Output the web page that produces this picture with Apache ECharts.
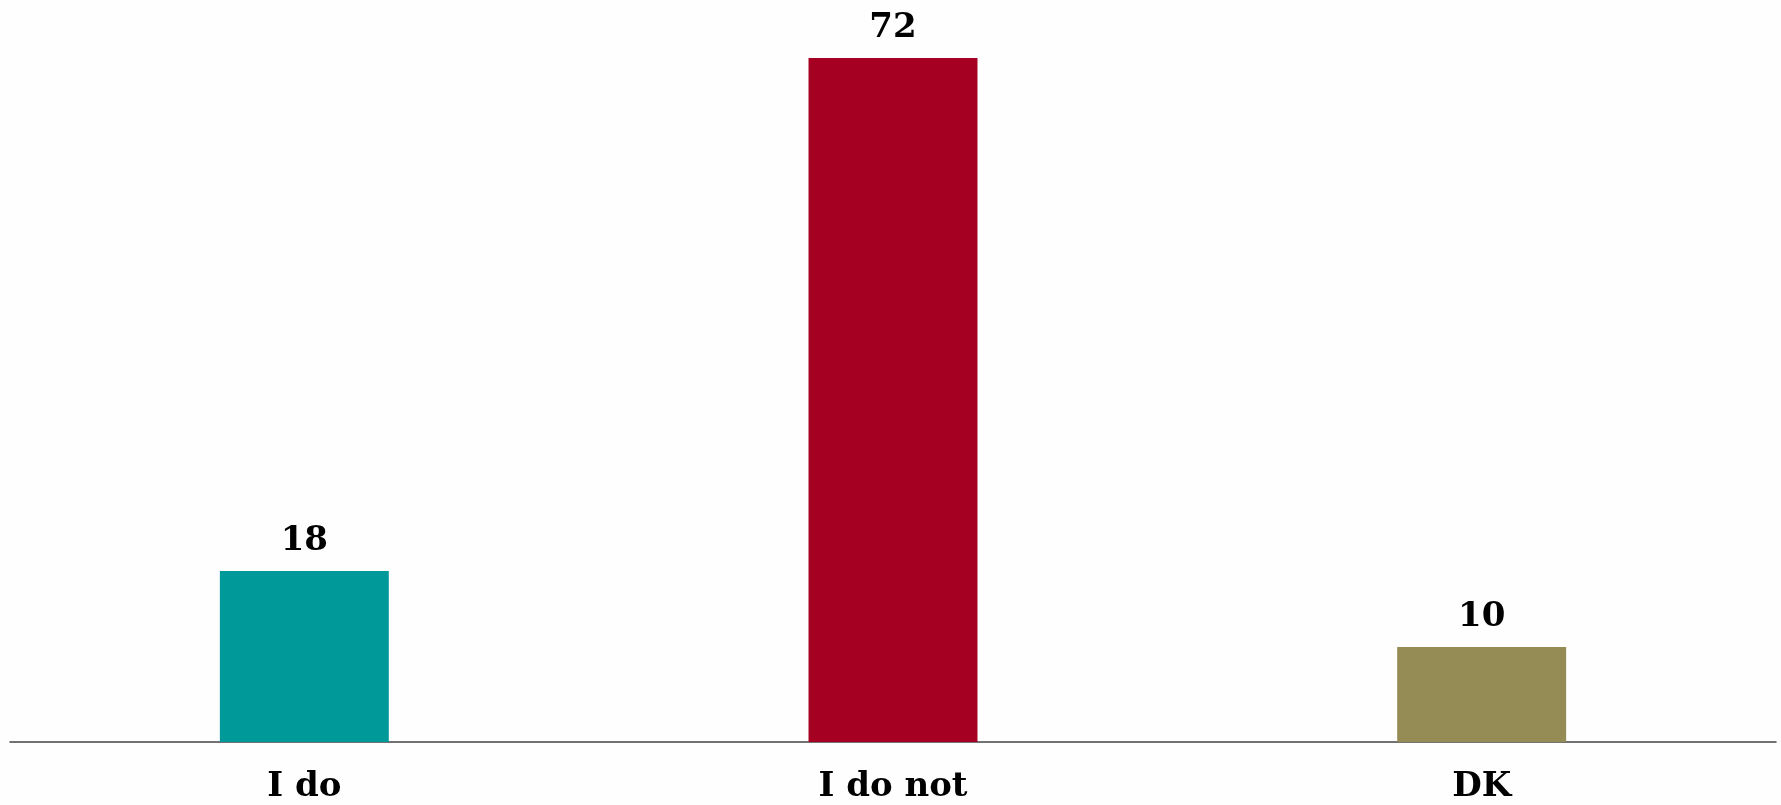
<!DOCTYPE html>
<html>
<head>
<meta charset="utf-8">
<script src="https://cdn.jsdelivr.net/npm/echarts@6/dist/echarts.min.js"></script>
<style>
html,body{margin:0;padding:0;background:#fefefe;}
#chart{width:1781px;height:805px;}
</style>
</head>
<body>
<div id="chart"></div>
<script>
const categories = ['I do', 'I do not', 'DK'];
const values = [18, 72, 10];
const colors = ['#009999', '#A50021', '#958B54'];

const chart = echarts.init(document.getElementById('chart'));
chart.setOption({
  backgroundColor: '#fefefe',
  animation: false,
  grid: { left: 10, right: 5, top: 1, bottom: 63, containLabel: false },
  xAxis: {
    type: 'category',
    data: categories,
    axisLine: { lineStyle: { color: '#444', width: 1.5 } },
    axisTick: { show: false },
    axisLabel: {
      margin: 28,
      color: '#000',
      fontFamily: 'DejaVu Serif',
      fontWeight: 'bold',
      fontSize: 34
    }
  },
  yAxis: {
    type: 'value',
    min: 0,
    max: 78,
    show: false,
    splitLine: { show: false }
  },
  series: [{
    type: 'bar',
    barWidth: '28.7%',
    data: values.map((v, i) => ({ value: v, itemStyle: { color: colors[i] } })),
    label: {
      show: true,
      position: 'top',
      distance: 13,
      color: '#000',
      fontFamily: 'DejaVu Serif',
      fontWeight: 'bold',
      fontSize: 34
    }
  }]
});
</script>
</body>
</html>
